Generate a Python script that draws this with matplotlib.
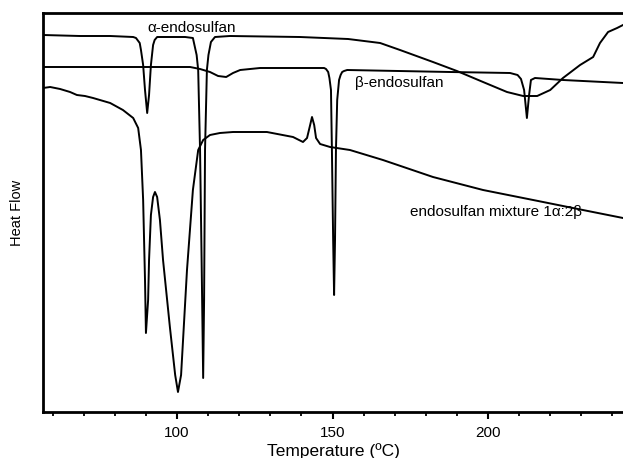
import matplotlib
matplotlib.use("Agg")
import matplotlib.pyplot as plt
from matplotlib.ticker import MultipleLocator

plt.rcParams['font.family'] = ['Liberation Sans', 'DejaVu Sans']

# alpha-endosulfan curve (Temperature degC, heat flow arbitrary units)
alpha_T = [56.9, 68.8, 78.5, 85.9, 86.8, 88.0, 88.4, 89.1, 89.7, 90.4, 91.0, 91.6, 92.3, 92.8, 93.6,
           96.1, 102.6, 105.1, 106.3, 106.8, 107.4, 107.9, 108.4, 108.7, 109.0, 109.6, 110.1,
           110.9, 112.2, 117.0, 139.5, 155.0, 165.3, 171.7, 182.3, 190.0, 198.4, 206.1, 211.3,
           215.8, 220.0, 224.1, 229.6, 233.8, 236.0, 238.6, 241.5, 243.4]
alpha_H = [377, 376, 376, 375, 374, 369, 362, 347, 322, 299, 317, 347, 367, 372, 375,
           375, 375, 374, 357, 342, 262, 152, 34, 112, 262, 342, 357,
           370, 375, 376, 375, 373, 369, 362, 350, 341, 330, 320, 316,
           316, 322, 334, 347, 355, 369, 380, 384, 387]

# beta-endosulfan curve
beta_T = [56.9, 75.2, 104.2, 107.4, 110.6, 113.2, 115.8, 118.0, 120.3, 126.7, 139.5, 147.3,
          147.9, 148.6, 149.0, 149.5, 149.8, 150.2, 150.5, 150.8, 151.1, 151.5, 152.1, 152.6,
          153.1, 153.7, 154.7, 187.8, 207.1, 209.5, 210.6, 211.6, 212.5, 213.2, 213.8, 215.1,
          224.1, 243.4]
beta_H = [345, 345, 345, 343, 340, 336, 335, 339, 342, 344, 344, 344,
          343, 340, 334, 322, 262, 172, 117, 172, 262, 312, 332, 337,
          340, 341, 342, 340, 339, 337, 333, 322, 294, 317, 332, 334,
          332, 329]

# endosulfan mixture 1alpha:2beta curve
mix_T = [56.9, 59.2, 62.4, 65.6, 67.8, 70.4, 73.0, 78.5, 82.6, 85.9, 87.5, 88.4, 89.1, 89.7,
         90.0, 90.7, 91.0, 91.6, 92.3, 92.9, 93.6, 94.5, 95.5, 97.7, 99.4, 100.3, 101.3, 103.2,
         105.1, 106.8, 108.4, 110.6, 113.8, 118.0, 128.9, 137.3, 140.5, 141.8, 142.8, 143.4,
         144.1, 144.7, 146.0, 149.2, 155.6, 166.2, 182.3, 198.4, 214.5, 230.5, 243.4]
mix_H = [324, 325, 323, 320, 317, 316, 314, 309, 302, 294, 284, 262, 212, 132,
         79, 112, 152, 197, 215, 220, 215, 192, 152, 85, 37, 20, 37, 142,
         222, 262, 272, 277, 279, 280, 280, 275, 270, 274, 287, 295,
         287, 274, 268, 265, 262, 252, 235, 222, 212, 202, 194]

labels = ["\u03b1-endosulfan", "\u03b2-endosulfan", "endosulfan mixture 1\u03b1:2\u03b2"]

fig = plt.figure(figsize=(6.23, 4.58), dpi=100)
ax = fig.add_axes([43/623, 46/458, 580/623, 399/458])

for T, H in [(alpha_T, alpha_H), (beta_T, beta_H), (mix_T, mix_H)]:
    ax.plot(T, H, color='black', lw=1.4, solid_joinstyle='round')

ax.set_xlim(56.9, 243.4)
ax.set_ylim(0, 399)

ax.text(90.4, 384, labels[0], fontsize=11, ha='left', va='center')
ax.text(157.2, 329, labels[1], fontsize=11, ha='left', va='center')
ax.text(174.9, 200, labels[2], fontsize=11, ha='left', va='center')

ax.xaxis.set_major_locator(MultipleLocator(50))
ax.xaxis.set_minor_locator(MultipleLocator(10))
ax.tick_params(axis='x', which='major', direction='out', length=5, width=1.5, labelsize=11, pad=5)
ax.tick_params(axis='x', which='minor', direction='out', length=3, width=1.3)
ax.set_yticks([])

for s in ['left', 'bottom', 'top']:
    ax.spines[s].set_linewidth(2)
ax.spines['right'].set_visible(False)

ax.set_xlabel("Temperature (\u00baC)", fontsize=12.5, labelpad=2)
ax.set_ylabel("Heat Flow", fontsize=10.5, labelpad=14)

fig.savefig("out.png", dpi=100)
